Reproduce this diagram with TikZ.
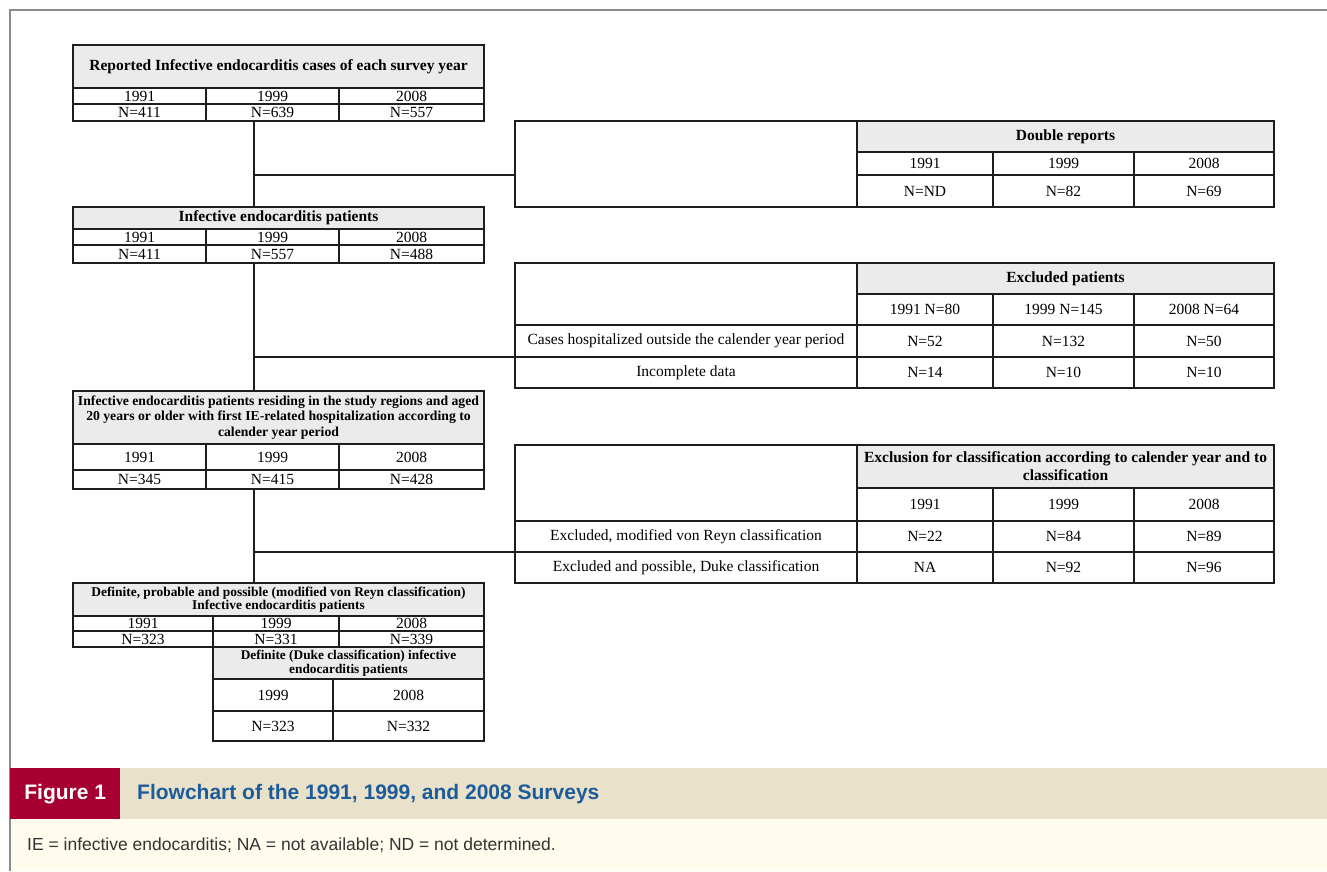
\documentclass[tikz,border=0pt]{standalone}
\usepackage{fontspec}
\setmainfont{Liberation Serif}
\newfontfamily\capfont{Liberation Sans}
\definecolor{linec}{HTML}{1E1E1E}
\definecolor{headg}{HTML}{EBEBEB}
\definecolor{framec}{HTML}{8C8C8C}
\definecolor{tanc}{HTML}{E9E1C9}
\definecolor{creamc}{HTML}{FFFCEE}
\definecolor{redc}{HTML}{A60032}
\definecolor{bluec}{HTML}{1D5C9A}
\definecolor{notec}{HTML}{333333}
\tikzset{
  cellbox/.style={draw=linec, line width=1.6pt, inner sep=0pt, align=center, fill=white,
    font=\fontsize{15.5}{16}\selectfont},
  headbox/.style={cellbox, fill=headg, font=\bfseries\fontsize{15.5}{16}\selectfont},
  conn/.style={draw=linec, line width=1.6pt},
}
\newcommand\mkcell[7][]{%
  \pgfmathsetmacro\cellw{#5-#3}%
  \pgfmathsetmacro\cellh{#6-#4}%
  \node[cellbox,#1,minimum width=\cellw pt,minimum height=\cellh pt] (#2) at ({(#3+#5)/2},{(#4+#6)/2}) {#7};%
}
\begin{document}
\begin{tikzpicture}[x=1pt,y=-1pt]
\useasboundingbox (0,0) rectangle (1327,871);
\fill[white] (0,0) rectangle (1327,871);
% frame and caption bands
\fill[tanc] (10,768) rectangle (1327,819);
\fill[creamc] (10,819) rectangle (1327,871);
\draw[framec, line width=2pt] (10,871) -- (10,10) -- (1327,10);
\node[fill=redc, minimum width=110pt, minimum height=51pt, inner sep=0pt, anchor=north west,
  text=white, font=\capfont\bfseries\fontsize{21}{22}\selectfont] (fig) at (10,768) {Figure 1};
\node[anchor=west, inner sep=0pt, text=bluec, font=\capfont\bfseries\fontsize{21}{22}\selectfont] (title) at (137,794) {Flowchart of the 1991, 1999, and 2008 Surveys};
\node[anchor=west, inner sep=0pt, text=notec, font=\capfont\fontsize{17.5}{18}\selectfont] (note) at (27,845) {IE = infective endocarditis; NA = not available; ND = not determined.};

% Box 1
\mkcell[headbox]{a0}{73}{45}{484}{88}{Reported Infective endocarditis cases of each survey year}
\mkcell{a1}{73}{88}{206}{104}{1991}
\mkcell{a2}{206}{88}{339}{104}{1999}
\mkcell{a3}{339}{88}{484}{104}{2008}
\mkcell{a4}{73}{104}{206}{121}{N=411}
\mkcell{a5}{206}{104}{339}{121}{N=639}
\mkcell{a6}{339}{104}{484}{121}{N=557}
% Box 2
\mkcell[headbox]{b0}{73}{207}{484}{229}{Infective endocarditis patients}
\mkcell{b1}{73}{229}{206}{245}{1991}
\mkcell{b2}{206}{229}{339}{245}{1999}
\mkcell{b3}{339}{229}{484}{245}{2008}
\mkcell{b4}{73}{245}{206}{263}{N=411}
\mkcell{b5}{206}{245}{339}{263}{N=557}
\mkcell{b6}{339}{245}{484}{263}{N=488}
% Box 3
\mkcell[headbox, font=\bfseries\fontsize{13.7}{15.5}\selectfont]{c0}{73}{391}{484}{444}{Infective endocarditis patients residing in the study regions and aged\\20 years or older with first IE-related hospitalization according to\\calender year period}
\mkcell{c1}{73}{444}{206}{470}{1991}
\mkcell{c2}{206}{444}{339}{470}{1999}
\mkcell{c3}{339}{444}{484}{470}{2008}
\mkcell{c4}{73}{470}{206}{489}{N=345}
\mkcell{c5}{206}{470}{339}{489}{N=415}
\mkcell{c6}{339}{470}{484}{489}{N=428}
% Box 4
\mkcell[headbox, font=\bfseries\fontsize{13.4}{13.5}\selectfont]{e0}{73}{583}{484}{616}{Definite, probable and possible (modified von Reyn classification)\\Infective endocarditis patients}
\mkcell{e1}{73}{616}{213}{631}{1991}
\mkcell{e2}{213}{616}{339}{631}{1999}
\mkcell{e3}{339}{616}{484}{631}{2008}
\mkcell{e4}{73}{631}{213}{647}{N=323}
\mkcell{e5}{213}{631}{339}{647}{N=331}
\mkcell{e6}{339}{631}{484}{647}{N=339}
% Box 5
\mkcell[headbox, font=\bfseries\fontsize{13.3}{14}\selectfont]{f0}{213}{647}{484}{679}{Definite (Duke classification) infective\\endocarditis patients}
\mkcell{f1}{213}{679}{333}{711}{1999}
\mkcell{f2}{333}{679}{484}{711}{2008}
\mkcell{f3}{213}{711}{333}{741}{N=323}
\mkcell{f4}{333}{711}{484}{741}{N=332}

% Double reports table
\mkcell{d0}{515}{121}{857}{207}{}
\mkcell[headbox]{d1}{857}{121}{1274}{152}{Double reports}
\mkcell{d2}{857}{152}{993}{175}{1991}
\mkcell{d3}{993}{152}{1134}{175}{1999}
\mkcell{d4}{1134}{152}{1274}{175}{2008}
\mkcell{d5}{857}{175}{993}{207}{N=ND}
\mkcell{d6}{993}{175}{1134}{207}{N=82}
\mkcell{d7}{1134}{175}{1274}{207}{N=69}

% Excluded patients table
\mkcell{g0}{515}{263}{857}{325}{}
\mkcell[headbox]{g1}{857}{263}{1274}{294}{Excluded patients}
\mkcell{g2}{857}{294}{993}{325}{1991 N=80}
\mkcell{g3}{993}{294}{1134}{325}{1999 N=145}
\mkcell{g4}{1134}{294}{1274}{325}{2008 N=64}
\mkcell{g5}{515}{325}{857}{357}{Cases hospitalized outside the calender year period}
\mkcell{g6}{857}{325}{993}{357}{N=52}
\mkcell{g7}{993}{325}{1134}{357}{N=132}
\mkcell{g8}{1134}{325}{1274}{357}{N=50}
\mkcell{g9}{515}{357}{857}{388}{Incomplete data}
\mkcell{g10}{857}{357}{993}{388}{N=14}
\mkcell{g11}{993}{357}{1134}{388}{N=10}
\mkcell{g12}{1134}{357}{1274}{388}{N=10}

% Exclusion for classification table
\mkcell{h0}{515}{445}{857}{521}{}
\mkcell[headbox, font=\bfseries\fontsize{15.5}{18}\selectfont]{h1}{857}{445}{1274}{488}{Exclusion for classification according to calender year and to\\classification}
\mkcell{h2}{857}{488}{993}{521}{1991}
\mkcell{h3}{993}{488}{1134}{521}{1999}
\mkcell{h4}{1134}{488}{1274}{521}{2008}
\mkcell{h5}{515}{521}{857}{552}{Excluded, modified von Reyn classification}
\mkcell{h6}{857}{521}{993}{552}{N=22}
\mkcell{h7}{993}{521}{1134}{552}{N=84}
\mkcell{h8}{1134}{521}{1274}{552}{N=89}
\mkcell{h9}{515}{552}{857}{583}{Excluded and possible, Duke classification}
\mkcell{h10}{857}{552}{993}{583}{NA}
\mkcell{h11}{993}{552}{1134}{583}{N=92}
\mkcell{h12}{1134}{552}{1274}{583}{N=96}

% connectors
\coordinate (j1) at (254,175);
\coordinate (j2) at (254,357);
\coordinate (j3) at (254,552);
\draw[conn] (a5.south -| j1) -- (b0.north -| j1);
\draw[conn] (j1) -- (d0.west |- j1);
\draw[conn] (b5.south -| j2) -- (c0.north -| j2);
\draw[conn] (j2) -- (g9.west |- j2);
\draw[conn] (c5.south -| j3) -- (e0.north -| j3);
\draw[conn] (j3) -- (h9.west |- j3);
\end{tikzpicture}
\end{document}
